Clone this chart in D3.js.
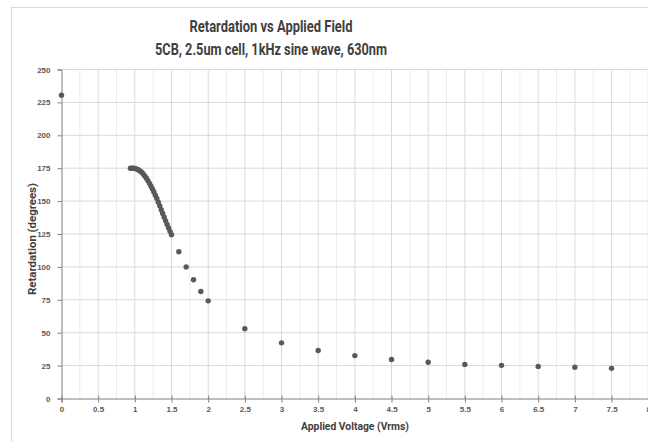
<!DOCTYPE html>
<html>
<head>
  <meta charset="utf-8">
  <title>Retardation vs Applied Field</title>
  <script src="https://d3js.org/d3.v7.min.js"></script>
  <style>
    body {
      margin: 0;
      padding: 0;
      background: white;
      overflow: hidden;
    }
    .tick-label {
      font-family: "Liberation Sans", Arial, sans-serif;
      font-size: 8px;
      font-weight: bold;
      fill: #595959;
    }
    .axis-title {
      font-family: Roboto, sans-serif;
      font-weight: 700;
      fill: #404040;
    }
  </style>
</head>
<body>
  <div id="chart"></div>
  <script>
    // data
    var voltage = [0,
      0.94, 0.96, 0.98, 1.00, 1.02, 1.04, 1.06, 1.08, 1.10, 1.12, 1.14, 1.16, 1.18, 1.20,
      1.22, 1.24, 1.26, 1.28, 1.30, 1.32, 1.34, 1.36, 1.38, 1.40, 1.42, 1.44, 1.46, 1.48, 1.50,
      1.6, 1.7, 1.8, 1.9, 2.0, 2.5, 3.0, 3.5, 4.0, 4.5, 5.0, 5.5, 6.0, 6.5, 7.0, 7.5];
    var retardation = [230.5,
      175, 175, 175, 174.8, 174.5, 174, 173.3, 172.5, 171.5, 170.2, 168.8, 167.2, 165.4, 163.5,
      161.3, 159.2, 156.9, 154.5, 152, 149.2, 146.4, 143.5, 140.6, 137.8, 135, 132.2, 129.6, 127, 124.5,
      111.5, 100, 90.2, 81.3, 74.2, 53, 42.3, 36.5, 32.6, 29.6, 27.6, 25.9, 25.2, 24.4, 23.7, 22.9];
    var xTicks = [0, 0.5, 1, 1.5, 2, 2.5, 3, 3.5, 4, 4.5, 5, 5.5, 6, 6.5, 7, 7.5, 8];
    var yTicks = [0, 25, 50, 75, 100, 125, 150, 175, 200, 225, 250];

    var width = 648, height = 442;

    var svg = d3.select("#chart")
      .append("svg")
        .attr("width", width)
        .attr("height", height);

    // chart border
    svg.append("rect")
        .attr("x", 11.5).attr("y", 7.5)
        .attr("width", 700).attr("height", 500)
        .attr("fill", "white")
        .attr("stroke", "#d9d9d9");

    var x = d3.scaleLinear().domain([0, 8]).range([61.5, 648.2]);
    var y = d3.scaleLinear().domain([0, 250]).range([398.5, 69.5]);

    // minor vertical grid
    svg.append("g")
      .selectAll("line")
      .data(d3.range(0.25, 8, 0.5))
      .enter().append("line")
        .attr("x1", function(d) { return x(d); })
        .attr("x2", function(d) { return x(d); })
        .attr("y1", y(0)).attr("y2", y(250))
        .attr("stroke", "#ececec");

    // major vertical grid
    svg.append("g")
      .selectAll("line")
      .data(xTicks.slice(1))
      .enter().append("line")
        .attr("x1", function(d) { return x(d); })
        .attr("x2", function(d) { return x(d); })
        .attr("y1", y(0)).attr("y2", y(250))
        .attr("stroke", "#d9d9d9");

    // horizontal grid
    svg.append("g")
      .selectAll("line")
      .data(yTicks.slice(1))
      .enter().append("line")
        .attr("x1", x(0)).attr("x2", x(8))
        .attr("y1", function(d) { return y(d); })
        .attr("y2", function(d) { return y(d); })
        .attr("stroke", "#d9d9d9");

    // x axis
    var xAxis = svg.append("g").attr("transform", "translate(0," + y(0) + ")");
    xAxis.call(d3.axisBottom(x).tickValues(d3.range(0.25, 8, 0.5)).tickSize(-3).tickFormat(""));
    xAxis.call(d3.axisBottom(x).tickValues(xTicks).tickSize(4).tickFormat(d3.format("")));
    xAxis.selectAll(".domain").attr("stroke", "#7f7f7f");
    xAxis.selectAll(".tick line").attr("stroke", "#7f7f7f");
    xAxis.selectAll(".tick text").attr("class", "tick-label").attr("dy", "0.9em").attr("y", 6);
    xAxis.selectAll(".tick").filter(function(d) { return xTicks.indexOf(d) >= 0; })
      .append("line").attr("y1", 0).attr("y2", -3).attr("stroke", "#7f7f7f");

    // y axis
    var yAxis = svg.append("g").attr("transform", "translate(" + x(0) + ",0)");
    yAxis.call(d3.axisLeft(y).tickValues(d3.range(5, 250, 5).filter(function(d) { return d % 25 != 0; }))
      .tickSize(-3).tickFormat(""));
    yAxis.call(d3.axisLeft(y).tickValues(yTicks).tickSize(4));
    yAxis.selectAll(".domain").attr("stroke", "#7f7f7f");
    yAxis.selectAll(".tick line").attr("stroke", "#7f7f7f");
    yAxis.selectAll(".tick text").attr("class", "tick-label").attr("x", -11);

    // points
    svg.append("g")
      .selectAll("circle")
      .data(voltage)
      .enter().append("circle")
        .attr("cx", function(d) { return x(d); })
        .attr("cy", function(d, i) { return y(retardation[i]); })
        .attr("r", 2.7)
        .attr("fill", "#595959");

    // titles
    svg.append("text")
        .attr("class", "axis-title")
        .attr("x", 271).attr("y", 31.5)
        .attr("text-anchor", "middle")
        .attr("font-size", "16.5px")
        .attr("textLength", 163).attr("lengthAdjust", "spacingAndGlyphs")
        .text("Retardation vs Applied Field");
    svg.append("text")
        .attr("class", "axis-title")
        .attr("x", 271).attr("y", 55)
        .attr("text-anchor", "middle")
        .attr("font-size", "16.5px")
        .attr("textLength", 232).attr("lengthAdjust", "spacingAndGlyphs")
        .text("5CB, 2.5um cell, 1kHz sine wave, 630nm");

    svg.append("text")
        .attr("class", "axis-title")
        .attr("x", 355).attr("y", 429.5)
        .attr("text-anchor", "middle")
        .attr("font-size", "10.5px")
        .attr("textLength", 108).attr("lengthAdjust", "spacingAndGlyphs")
        .text("Applied Voltage (Vrms)");
    svg.append("text")
        .attr("class", "axis-title")
        .attr("transform", "translate(35.5,239) rotate(-90)")
        .attr("text-anchor", "middle")
        .attr("font-size", "10.5px")
        .attr("textLength", 112).attr("lengthAdjust", "spacingAndGlyphs")
        .text("Retardation (degrees)");
  </script>
</body>
</html>
